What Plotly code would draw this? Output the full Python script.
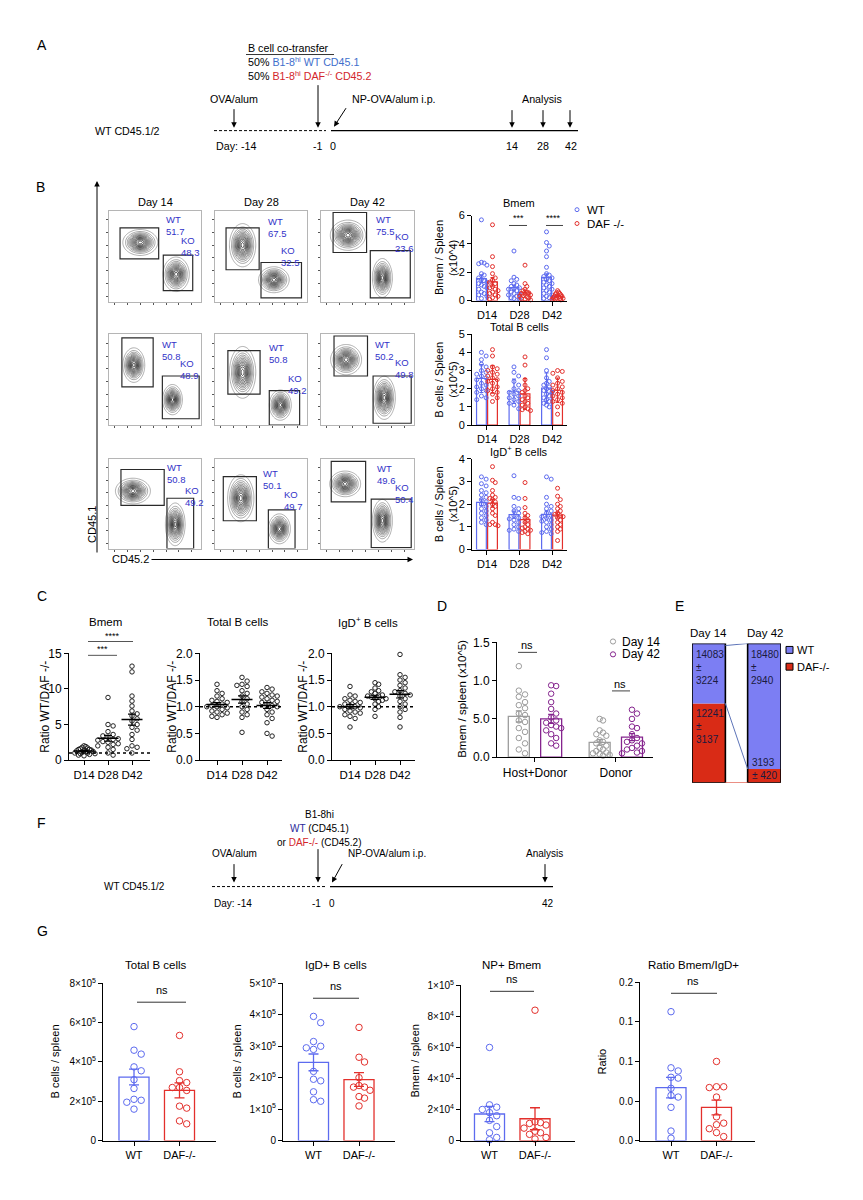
import numpy as np
import plotly.graph_objects as go

# the page body has an 8px margin, so the figure is drawn 8px in from the corner
OFF = 8
FW, FH = 863 - 2 * OFF, 1200 - 2 * OFF
FONT = "Liberation Sans, Arial, sans-serif"

WT_BLUE = "#5d6bef"
DAF_RED = "#e3302c"
GATE_BLUE = "#3232c8"
D14_GRAY = "#9c9c9c"
D42_PURPLE = "#85248e"
E_BLUE = "#7c7ef3"
E_RED = "#d92b16"

# ---------------------------------------------------------------- data
timeline_a_days = ["Day: -14", "-1", "0", "14", "28", "42"]
timeline_f_days = ["Day: -14", "-1", "0", "42"]

# B: flow plots (row-major, rows = 3 experiments, cols = day 14 / 28 / 42)
flow_days = ["Day 14", "Day 28", "Day 42"]
flow_wt_pct = ["51.7", "67.5", "75.5", "50.8", "50.8", "50.2", "50.8", "50.1", "49.6"]
flow_ko_pct = ["48.3", "32.5", "23.6", "48.9", "49.2", "49.8", "49.2", "49.7", "50.4"]
# gates on a 0-100 display scale: (CD45.2 lo, hi, CD45.1 lo, hi)
flow_wt_gate = [(12, 54, 47, 81), (12, 48, 35, 81), (13, 49, 54, 98),
                (14, 48, 42, 96), (14, 49, 34, 82), (14, 50, 54, 98),
                (13, 60, 48, 88), (9, 45, 31, 80), (11, 48, 52, 97)]
flow_ko_gate = [(59, 91, 12, 51), (50, 94, 4, 43), (53, 96, 4, 56),
                (58, 98, 7, 54), (59, 92, 0, 38), (56, 97, 2, 54),
                (63, 92, 0, 56), (58, 87, 0, 43), (54, 97, 1, 55)]
# population centre and spread: (CD45.2, CD45.1, sd CD45.2, sd CD45.1)
flow_wt_pop = [(34, 65, 8, 6), (30, 62, 6, 10), (29, 73, 8, 7),
               (27, 66, 5, 8), (30, 58, 6, 12), (27, 72, 7, 7),
               (26, 64, 8, 6), (28, 56, 6, 11), (26, 72, 7, 6)]
flow_ko_pop = [(73, 30, 6, 8), (64, 24, 7, 6), (66, 26, 4.5, 9),
               (69, 28, 4.5, 7), (71, 22, 5, 7), (68, 30, 5, 10),
               (72, 27, 4.5, 10), (70, 22, 5, 7), (66, 31, 4.5, 10)]

# B: bar charts (per day D14, D28, D42)
bar_days = ["D14", "D28", "D42"]
bmem_wt = [
    [5.7, 2.7, 2.65, 2.6, 2.5, 1.9, 1.8, 1.6, 1.5, 1.4, 1.3, 1.2, 1.1, 1.0, 0.9, 0.8, 0.6, 0.5, 0.4, 0.3, 0.15],
    [3.5, 1.65, 1.5, 1.4, 1.2, 1.1, 1.0, 0.9, 0.85, 0.8, 0.7, 0.6, 0.5, 0.45, 0.4, 0.3, 0.2, 0.15, 0.1],
    [4.85, 4.1, 3.85, 3.5, 3.1, 2.35, 1.9, 1.8, 1.7, 1.6, 1.5, 1.4, 1.3, 1.2, 1.1, 1.0, 0.9, 0.8, 0.7,
     0.6, 0.5, 0.4, 0.3, 0.2, 0.15],
]
bmem_daf = [
    [5.35, 3.1, 2.4, 1.9, 1.6, 1.45, 1.3, 1.2, 1.0, 0.9, 0.8, 0.7, 0.6, 0.5, 0.4, 0.3, 0.2, 0.1],
    [2.5, 1.2, 1.0, 0.8, 0.7, 0.6, 0.55, 0.5, 0.45, 0.4, 0.35, 0.3, 0.25, 0.2, 0.15, 0.1, 0.05],
    [0.7, 0.6, 0.55, 0.5, 0.45, 0.4, 0.35, 0.3, 0.3, 0.25, 0.2, 0.2, 0.15, 0.15, 0.1, 0.1, 0.05],
]
totalb_wt = [
    [4.0, 3.8, 3.6, 3.35, 3.2, 3.0, 2.9, 2.8, 2.7, 2.6, 2.5, 2.3, 2.2, 2.1, 2.0, 1.9, 1.8, 1.6, 1.5, 1.4],
    [3.2, 2.9, 2.7, 2.4, 2.2, 2.0, 1.9, 1.8, 1.7, 1.6, 1.5, 1.4, 1.3, 1.2, 1.1, 0.9],
    [4.15, 3.7, 3.0, 2.6, 2.4, 2.3, 2.2, 2.1, 2.0, 1.9, 1.85, 1.8, 1.7, 1.6, 1.5, 1.4, 1.3, 1.2, 1.1, 1.0],
]
totalb_daf = [
    [4.15, 3.8, 3.2, 3.1, 3.0, 2.9, 2.8, 2.7, 2.6, 2.5, 2.4, 2.3, 2.1, 2.0, 1.9, 1.8, 1.7, 1.5, 1.3],
    [3.75, 3.3, 2.5, 2.2, 2.0, 1.9, 1.8, 1.6, 1.5, 1.4, 1.3, 1.2, 1.1, 1.0, 0.9, 0.85, 0.8],
    [3.0, 2.95, 2.85, 2.6, 2.4, 2.3, 2.2, 2.1, 2.0, 1.9, 1.8, 1.7, 1.6, 1.5, 1.4, 1.3, 1.2, 1.0, 0.6],
]
igd_wt = [
    [3.2, 3.1, 2.9, 2.8, 2.6, 2.5, 2.4, 2.3, 2.2, 2.1, 2.0, 1.9, 1.8, 1.7, 1.6, 1.5, 1.4, 1.3, 1.2, 1.1],
    [3.25, 2.3, 2.25, 1.9, 1.8, 1.7, 1.6, 1.5, 1.4, 1.35, 1.3, 1.2, 1.1, 1.0, 0.9, 0.85, 0.8],
    [3.2, 3.1, 2.3, 2.0, 1.9, 1.8, 1.7, 1.6, 1.5, 1.45, 1.4, 1.3, 1.25, 1.2, 1.1, 1.0, 0.9, 0.8, 0.75, 0.7],
]
igd_daf = [
    [3.65, 3.05, 2.95, 2.6, 2.4, 2.3, 2.25, 2.2, 2.1, 2.0, 1.9, 1.8, 1.6, 1.5, 1.2, 1.1, 1.05, 1.1],
    [2.95, 2.25, 1.85, 1.6, 1.5, 1.4, 1.3, 1.2, 1.1, 1.0, 0.95, 0.9, 0.85, 0.8, 0.75, 0.7],
    [2.7, 2.35, 2.2, 2.0, 1.9, 1.8, 1.7, 1.6, 1.55, 1.5, 1.45, 1.4, 1.3, 1.2, 1.1, 1.0, 0.9, 0.8, 0.4],
]

# C: ratio WT / DAF-/-
ratio_bmem = [
    [2.0, 1.9, 1.8, 1.7, 1.6, 1.5, 1.5, 1.4, 1.3, 1.3, 1.2, 1.2, 1.1, 1.0, 1.0, 0.9, 0.9, 0.8, 0.7, 0.6],
    [8.8, 5.0, 4.8, 4.0, 3.6, 3.4, 3.2, 3.0, 2.9, 2.8, 2.6, 2.5, 2.3, 2.2, 2.0, 1.8, 1.5, 1.0, 0.7],
    [13.2, 12.4, 9.0, 8.3, 7.6, 6.9, 6.5, 6.2, 5.8, 5.5, 5.0, 4.6, 4.2, 3.6, 2.9, 2.0, 1.8, 1.6, 1.0],
]
ratio_total = [
    [1.42, 1.3, 1.25, 1.2, 1.15, 1.12, 1.1, 1.08, 1.05, 1.02, 1.0, 1.0, 0.98, 0.95, 0.92, 0.9, 0.88,
     0.85, 0.82, 0.8],
    [1.55, 1.48, 1.42, 1.4, 1.38, 1.3, 1.25, 1.2, 1.15, 1.1, 1.05, 1.0, 0.95, 0.9, 0.85, 0.8, 0.52],
    [1.36, 1.33, 1.28, 1.25, 1.22, 1.2, 1.18, 1.15, 1.12, 1.1, 1.08, 1.05, 1.02, 1.0, 0.95, 0.9, 0.85,
     0.78, 0.7, 0.5, 0.45],
]
ratio_igd = [
    [1.38, 1.22, 1.2, 1.15, 1.12, 1.1, 1.08, 1.05, 1.02, 1.0, 1.0, 0.98, 0.95, 0.92, 0.9, 0.88, 0.85,
     0.82, 0.78, 0.62],
    [1.45, 1.42, 1.35, 1.3, 1.28, 1.25, 1.22, 1.2, 1.2, 1.18, 1.15, 1.15, 1.12, 1.1, 1.05, 1.0, 0.95, 0.82],
    [1.98, 1.6, 1.55, 1.5, 1.45, 1.4, 1.35, 1.3, 1.28, 1.25, 1.22, 1.2, 1.15, 1.1, 1.05, 1.0, 0.95,
     0.9, 0.8, 0.62],
]

# D: Bmem / spleen (x10^5)
d_groups = ["Host+Donor", "Donor"]
d_day14 = [
    [1.19, 0.87, 0.82, 0.79, 0.72, 0.68, 0.64, 0.57, 0.55, 0.48, 0.46, 0.38, 0.33, 0.25, 0.18, 0.1, 0.05],
    [0.5, 0.48, 0.35, 0.32, 0.3, 0.28, 0.22, 0.2, 0.18, 0.15, 0.12, 0.1, 0.08, 0.06, 0.05, 0.04, 0.03, 0.02],
]
d_day42 = [
    [0.94, 0.93, 0.83, 0.72, 0.63, 0.57, 0.52, 0.48, 0.45, 0.42, 0.4, 0.38, 0.35, 0.3, 0.25, 0.18, 0.15],
    [0.62, 0.57, 0.5, 0.4, 0.38, 0.3, 0.25, 0.22, 0.2, 0.18, 0.15, 0.12, 0.1, 0.08, 0.06, 0.05],
]

# E: donor Bmem numbers (mean, sem) and the WT share of each bar as drawn
e_days = ["Day 14", "Day 42"]
e_wt_mean = [14083, 18480]
e_wt_sem = [3224, 2940]
e_daf_mean = [12241, 3193]
e_daf_sem = [3137, 420]
e_wt_share = [0.43, 0.90]

# G: single transfer, day 42
g_titles = ["Total B cells", "IgD+ B cells", "NP+ Bmem", "Ratio Bmem/IgD+"]
g_ylabels = ["B cells / spleen", "B cells / spleen", "Bmem / spleen", "Ratio"]
g_groups = ["WT", "DAF-/-"]
g_wt = [
    [5.8e5, 4.6e5, 4.4e5, 3.75e5, 3.55e5, 3.1e5, 2.65e5, 2.1e5, 2.05e5, 1.95e5, 1.6e5],
    [3.95e5, 3.75e5, 3.15e5, 3.0e5, 2.95e5, 2.9e5, 2.2e5, 1.95e5, 1.9e5, 1.55e5, 1.3e5, 1.25e5],
    [6.0e4, 2.3e4, 2.15e4, 2.0e4, 1.8e4, 1.6e4, 1.3e4, 0.9e4, 0.5e4, 0.2e4, 0.05e4],
    [0.163, 0.092, 0.088, 0.08, 0.079, 0.066, 0.057, 0.055, 0.042, 0.012, 0.003],
]
g_daf = [
    [5.35e5, 3.5e5, 3.05e5, 2.95e5, 2.7e5, 2.7e5, 2.55e5, 1.75e5, 1.65e5, 1.0e5, 0.85e5],
    [3.6e5, 2.65e5, 2.5e5, 2.0e5, 1.75e5, 1.7e5, 1.7e5, 1.6e5, 1.4e5, 1.35e5, 1.1e5],
    [8.4e4, 1.2e4, 1.15e4, 1.1e4, 1.0e4, 0.8e4, 0.6e4, 0.5e4, 0.4e4, 0.2e4, 0.1e4],
    [0.1, 0.068, 0.067, 0.068, 0.055, 0.03, 0.022, 0.02, 0.015, 0.01, 0.005],
]

# ---------------------------------------------------------------- helpers
fig = go.Figure()
layout_axes, shapes, notes = {}, [], []


def px(x):
    return (x - OFF) / FW


def py(y):
    return 1 - (y - OFF) / FH


def add_axes(box, xr, yr, xa=None, ya=None):
    n = len(layout_axes) // 2 + 1
    s = "" if n == 1 else str(n)
    x0, x1, y0, y1 = box
    base = dict(showgrid=False, zeroline=False, fixedrange=True)
    xd = dict(base, domain=[px(x0), px(x1)], range=xr, anchor="y" + s)
    yd = dict(base, domain=[py(y1), py(y0)], range=yr, anchor="x" + s)
    xd.update(xa or {})
    yd.update(ya or {})
    layout_axes["xaxis" + s] = xd
    layout_axes["yaxis" + s] = yd
    return "x" + s, "y" + s


def label(x, y, s, size=11, color="black", xanchor="center", yanchor="middle", angle=0, align="center"):
    notes.append(dict(x=px(x), y=py(y), xref="paper", yref="paper", text=s, showarrow=False,
                      font=dict(size=size, color=color, family=FONT), xanchor=xanchor,
                      yanchor=yanchor, textangle=angle, align=align))


def seg(x0, y0, x1, y1, width=1.0, color="black", dash=None):
    shapes.append(dict(type="line", xref="paper", yref="paper", x0=px(x0), y0=py(y0),
                       x1=px(x1), y1=py(y1), line=dict(width=width, color=color, dash=dash)))


def arrow(x0, y0, x1, y1, width=1.0):
    notes.append(dict(x=px(x1), y=py(y1), xref="paper", yref="paper", ax=x0 - x1, ay=y0 - y1,
                      axref="pixel", ayref="pixel", text="", showarrow=True, arrowhead=2,
                      arrowsize=1.1, arrowwidth=width, arrowcolor="black",
                      font=dict(size=10, family=FONT)))


def circle(x, y, r, color, fill=None):
    shapes.append(dict(type="circle", xref="paper", yref="paper", x0=px(x - r), x1=px(x + r),
                       y0=py(y + r), y1=py(y - r), line=dict(color=color, width=1), fillcolor=fill))


def swarm_offsets(values, ypx, xpx, diam, max_off):
    """Beeswarm-style horizontal spread (pixels), squeezed to +/- max_off."""
    vals = np.asarray(values, dtype=float)
    placed = []
    offs = np.zeros(len(vals))
    for i in np.argsort(-vals):
        y = vals[i] * ypx
        k = 0
        while True:
            o = ((k + 1) // 2) * diam * (1 if k % 2 else -1)
            if all((o - qx) ** 2 + (y - qy) ** 2 >= (0.95 * diam) ** 2 for qx, qy in placed):
                break
            k += 1
        placed.append((o, y))
        offs[i] = o
    widest = np.abs(offs).max()
    if widest > max_off:
        offs *= max_off / widest
    return offs / xpx


def prism_axes(box, xr, yr, xvals, xtext, yvals, ytext, tick_size=11, xtick_size=None):
    common = dict(showline=True, linecolor="black", linewidth=1, ticks="outside", ticklen=4,
                  tickwidth=1, tickcolor="black", tickfont=dict(size=tick_size, color="black"))
    xa = dict(common, tickvals=xvals, ticktext=xtext, tickangle=0)
    if xtick_size:
        xa["tickfont"] = dict(size=xtick_size, color="black")
    return add_axes(box, xr, yr, xa=xa, ya=dict(common, tickvals=yvals, ticktext=ytext))


def bar_dots(xa, ya, box, xr, yr, positions, groups, color, bar_w, dot, err="sem", lw=1.3, cap=3,
             max_off=8):
    xpx = (box[1] - box[0]) / (xr[1] - xr[0])
    ypx = (box[3] - box[2]) / (yr[1] - yr[0])
    means = [float(np.mean(g)) for g in groups]
    sds = [float(np.std(g, ddof=1)) for g in groups]
    errs = sds if err == "sd" else [s / np.sqrt(len(g)) for s, g in zip(sds, groups)]
    fig.add_trace(go.Bar(x=list(positions), y=means, width=bar_w, xaxis=xa, yaxis=ya,
                         marker=dict(color="rgba(255,255,255,0)", line=dict(color=color, width=lw)),
                         error_y=dict(type="data", array=errs, color=color, thickness=lw, width=cap),
                         hoverinfo="skip"))
    xs, ys = [], []
    for p, g in zip(positions, groups):
        xs += list(p + swarm_offsets(g, ypx, xpx, dot + 0.7, max_off))
        ys += list(g)
    fig.add_trace(go.Scatter(x=xs, y=ys, mode="markers", xaxis=xa, yaxis=ya, cliponaxis=False,
                             marker=dict(symbol="circle-open", size=dot, color=color, line=dict(width=1)),
                             hoverinfo="skip"))


def dot_means(xa, ya, box, xr, yr, groups, dot=4.5, max_off=11):
    xpx = (box[1] - box[0]) / (xr[1] - xr[0])
    ypx = (box[3] - box[2]) / (yr[1] - yr[0])
    xs, ys = [], []
    for p, g in enumerate(groups):
        xs += list(p + swarm_offsets(g, ypx, xpx, dot + 0.6, max_off))
        ys += list(g)
    fig.add_trace(go.Scatter(x=xs, y=ys, mode="markers", xaxis=xa, yaxis=ya, cliponaxis=False,
                             marker=dict(symbol="circle-open", size=dot, color="#222", line=dict(width=1)),
                             hoverinfo="skip"))
    means = [float(np.mean(g)) for g in groups]
    sems = [float(np.std(g, ddof=1) / np.sqrt(len(g))) for g in groups]
    fig.add_trace(go.Scatter(x=list(range(len(groups))), y=means, mode="markers", xaxis=xa, yaxis=ya,
                             marker=dict(symbol="line-ew", size=15, color="black",
                                         line=dict(width=1.5, color="black")),
                             error_y=dict(type="data", array=sems, color="black", thickness=1.2, width=4),
                             hoverinfo="skip"))


# ---------------------------------------------------------------- A: timeline
TA = 10.7
label(42, 38, "A", 14)
label(246, 41, "B cell co-transfer", TA, xanchor="left")
seg(246, 48, 334, 48, 0.8)
label(246, 55, "50% <span style='color:#3f6fcc'>B1-8<sup>hi</sup> WT CD45.1</span>", TA, xanchor="left")
label(246, 69, "50% <span style='color:#d3262b'>B1-8<sup>hi</sup> DAF<sup>-/-</sup> CD45.2</span>", TA,
      xanchor="left")
label(234, 93, "OVA/alum", TA)
label(350, 93, "NP-OVA/alum i.p.", TA, xanchor="left")
label(542, 93, "Analysis", TA)
arrow(234, 102, 234, 122)
arrow(318, 78, 318, 122)
arrow(347, 101, 334, 121)
for ax_x in (512, 543, 570):
    arrow(ax_x, 103, ax_x, 122)
seg(214, 125, 326, 125, 1, dash="3px,2px")
seg(331, 125, 578, 125, 1.2)
label(93, 125, "WT CD45.1/2", TA, xanchor="left")
label(214, 141, timeline_a_days[0], TA, xanchor="left")
for s, ax_x in zip(timeline_a_days[1:], (318, 333, 512, 543, 571)):
    label(ax_x, 141, s, TA)

# ---------------------------------------------------------------- B: flow plots
label(40, 182, "B", 14)
flow_cols = [(109, 201), (215, 307), (321, 414)]
flow_rows = [(206, 298), (331, 423), (457, 548)]
wt_label_at = [(60, 98), (55, 96), (57, 99), (55, 97), (57, 94), (56, 97), (61, 99), (50, 92), (58, 97)]
ko_label_at = [(76, 75), (70, 64), (77, 80), (75, 76), (77, 60), (77, 77), (80, 73), (73, 68), (77, 76)]
gx = np.linspace(0, 100, 81)
GX, GY = np.meshgrid(gx, gx)


def blob(cx, cy, sx, sy):
    return np.exp(-0.5 * (((GX - cx) / sx) ** 2 + ((GY - cy) / sy) ** 2))


flow_axis = dict(showline=True, mirror=True, linecolor="#b5b5b5", linewidth=1, ticks="outside",
                 ticklen=2, tickwidth=1, tickcolor="#555", tickvals=[6, 20, 34, 48, 62, 76, 90],
                 showticklabels=False)
for c, day in enumerate(flow_days):
    label((flow_cols[c][0] + flow_cols[c][1]) / 2, 197, day, 11)
for r in range(3):
    for c in range(3):
        i = 3 * r + c
        box = (flow_cols[c][0], flow_cols[c][1], flow_rows[r][0], flow_rows[r][1])
        xa, ya = add_axes(box, [0, 100], [0, 100], xa=flow_axis, ya=flow_axis)
        z = blob(*flow_wt_pop[i]) + blob(*flow_ko_pop[i])
        fig.add_trace(go.Contour(x=gx, y=gx, z=z, xaxis=xa, yaxis=ya, showscale=False, zmin=0, zmax=1,
                                 contours=dict(coloring="lines", start=0.06, end=0.98, size=0.075),
                                 line=dict(width=0.7), colorscale=[[0, "#8c8c8c"], [1, "#000000"]],
                                 hoverinfo="skip"))
        for g in (flow_wt_gate[i], flow_ko_gate[i]):
            shapes.append(dict(type="rect", xref=xa, yref=ya, x0=g[0], x1=g[1], y0=g[2], y1=g[3],
                               line=dict(color="#2a2a2a", width=1.2)))
        for (lx, ly), tag, pct in ((wt_label_at[i], "WT", flow_wt_pct[i]), (ko_label_at[i], "KO", flow_ko_pct[i])):
            notes.append(dict(x=lx, y=ly, xref=xa, yref=ya, text=f"{tag}<br>{pct}", showarrow=False,
                              align="left", xanchor="left", yanchor="top",
                              font=dict(size=9.5, color=GATE_BLUE, family=FONT)))

arrow(97, 549, 97, 176)
arrow(150, 559, 413, 559)
label(92, 524, "CD45.1", 11, angle=-90)
label(110, 559, "CD45.2", 11, xanchor="left")

# ---------------------------------------------------------------- B: bar charts
b_xr = [-0.46, 2.46]
b_specs = [
    ("Bmem", bmem_wt, bmem_daf, (211, 297), [0, 6], [0, 2, 4, 6], "sem", "Bmem / Spleen", "(x10^4)", 198),
    ("Total B cells", totalb_wt, totalb_daf, (331, 423), [0, 5], [0, 1, 2, 3, 4, 5], "sd",
     "B cells / Spleen", "(x10^5)", 324),
    ("IgD<sup>+</sup> B cells", igd_wt, igd_daf, (457, 549), [0, 4], [0, 1, 2, 3, 4], "sem",
     "B cells / Spleen", "(x10^5)", 449),
]
for title, wt, daf, (y0, y1), yr, yt, err, ylab1, ylab2, ty in b_specs:
    box = (472, 567, y0, y1)
    xa, ya = prism_axes(box, b_xr, yr, [0, 1, 2], bar_days, yt, [str(v) for v in yt], 11)
    bar_dots(xa, ya, box, b_xr, yr, np.arange(3) - 0.17, wt, WT_BLUE, 0.3, 4, err, 1.2, 2, 5.5)
    bar_dots(xa, ya, box, b_xr, yr, np.arange(3) + 0.17, daf, DAF_RED, 0.3, 4, err, 1.2, 2, 5.5)
    label(519, ty, title, 11)
    label(439, (y0 + y1) / 2, ylab1, 11, angle=-90)
    label(453, (y0 + y1) / 2, ylab2, 11, angle=-90)

label(518, 213, "***", 9)
seg(509, 221, 527, 221, 1, "#444")
label(553, 213, "****", 9)
seg(546, 221, 563, 221, 1, "#444")
circle(577, 205, 2, WT_BLUE)
label(585, 205, "WT", 11.5, xanchor="left")
circle(577, 219, 2, DAF_RED)
label(585, 219, "DAF -/-", 11.5, xanchor="left")

# ---------------------------------------------------------------- C: ratios
label(42, 596, "C", 14)
c_specs = [
    ("Bmem", ratio_bmem, (69, 150), [-0.625, 2.75], [0, 15], [0, 5, 10, 15], ["0", "5", "10", "15"], 45, 105),
    ("Total B cells", ratio_total, (200, 282), [-0.68, 2.6], [0, 2], [0, 0.5, 1, 1.5, 2],
     ["0.0", "0.5", "1.0", "1.5", "2.0"], 172, 238),
    ("IgD<sup>+</sup> B cells", ratio_igd, (332, 415), [-0.72, 2.6], [0, 2], [0, 0.5, 1, 1.5, 2],
     ["0.0", "0.5", "1.0", "1.5", "2.0"], 303, 368),
]
for title, groups, (x0, x1), xr, yr, yt, ytt, ylx, tx in c_specs:
    box = (x0, x1, 654, 762)
    xa, ya = prism_axes(box, xr, yr, [0, 1, 2], bar_days, yt, ytt, 12, 11.5)
    shapes.append(dict(type="line", xref=xa + " domain", yref=ya, x0=0, x1=1, y0=1, y1=1,
                       line=dict(color="black", width=1.5, dash="dot")))
    dot_means(xa, ya, box, xr, yr, groups)
    label(tx, 622, title, 11.5)
    label(ylx, 708, "Ratio WT/DAF -/-", 12, angle=-90)
label(112, 636, "****", 9)
seg(88, 642, 133, 642, 1, "#555")
label(102, 650, "***", 9)
seg(88, 656, 117, 656, 1, "#555")

# ---------------------------------------------------------------- D
label(442, 606, "D", 14)
d_box = (497, 653, 643, 759)
d_xr = [-0.47, 1.46]
xa, ya = prism_axes(d_box, d_xr, [0, 1.5], [0, 1], d_groups, [0, 0.5, 1.0, 1.5],
                    ["0.0", "5.0", "1.0", "1.5"], 12)
bar_dots(xa, ya, d_box, d_xr, [0, 1.5], np.arange(2) - 0.2, d_day14, D14_GRAY, 0.26, 5.5, "sem", 1.3, 3, 10)
bar_dots(xa, ya, d_box, d_xr, [0, 1.5], np.arange(2) + 0.2, d_day42, D42_PURPLE, 0.26, 5.5, "sem", 1.3, 3, 10)
label(462, 700, "Bmem / spleen (x10^5)", 11.5, angle=-90)
label(527, 646, "ns", 11)
seg(518, 653, 537, 653, 1, "#444")
label(620, 685, "ns", 11)
seg(612, 692, 630, 692, 1, "#444")
circle(613, 642, 2.6, D14_GRAY)
label(620, 642, "Day 14", 12, xanchor="left")
circle(613, 655, 2.6, D42_PURPLE)
label(620, 655, "Day 42", 12, xanchor="left")

# ---------------------------------------------------------------- E
label(679, 606, "E", 14)
e_box = (692, 781, 644, 785)
e_xr = [-0.3, 1.3]
xa, ya = add_axes(e_box, e_xr, [0, 1], xa=dict(visible=False), ya=dict(visible=False))
daf_frac = [1 - s for s in e_wt_share]
fig.add_trace(go.Bar(x=[0, 1], y=daf_frac, width=0.6, xaxis=xa, yaxis=ya, hoverinfo="skip",
                     marker=dict(color=E_RED, line=dict(width=0))))
fig.add_trace(go.Bar(x=[0, 1], y=e_wt_share, base=daf_frac, width=0.6, xaxis=xa, yaxis=ya, hoverinfo="skip",
                     marker=dict(color=E_BLUE, line=dict(width=0))))
for p in (0, 1):
    shapes.append(dict(type="rect", xref=xa, yref=ya, x0=p - 0.3, x1=p + 0.3, y0=0, y1=1,
                       line=dict(color="black", width=1.6)))
shapes.append(dict(type="line", xref=xa, yref=ya, x0=0.3, x1=0.7, y0=0.985, y1=1,
                   line=dict(color="#5d74b8", width=1)))
shapes.append(dict(type="line", xref=xa, yref=ya, x0=0.3, x1=0.7, y0=daf_frac[0], y1=daf_frac[1],
                   line=dict(color="#5d74b8", width=1)))
shapes.append(dict(type="line", xref=xa, yref=ya, x0=0.3, x1=0.7, y0=0, y1=0,
                   line=dict(color=E_RED, width=1)))
e_text = dict(size=10, color="#1a1a40", family=FONT)
for p, day in enumerate(e_days):
    label(708.5 + 56 * p, 633, day, 11.5)
    notes.append(dict(x=p - 0.27, y=0.975, xref=xa, yref=ya, showarrow=False, xanchor="left",
                      yanchor="top", align="left", text=f"{e_wt_mean[p]}<br>±<br>{e_wt_sem[p]}",
                      font=e_text))
notes.append(dict(x=-0.27, y=daf_frac[0] - 0.02, xref=xa, yref=ya, showarrow=False, xanchor="left",
                  yanchor="top", align="left", text=f"{e_daf_mean[0]}<br>±<br>{e_daf_sem[0]}",
                  font=e_text))
notes.append(dict(x=0.74, y=daf_frac[1], xref=xa, yref=ya, showarrow=False, xanchor="left",
                  yanchor="middle", align="left", text=f"{e_daf_mean[1]}<br>± {e_daf_sem[1]}",
                  font=e_text))
shapes.append(dict(type="rect", xref="paper", yref="paper", x0=px(786), x1=px(793), y0=py(654),
                   y1=py(647), fillcolor=E_BLUE, line=dict(color="black", width=1)))
label(795, 650.5, "WT", 11, xanchor="left")
shapes.append(dict(type="rect", xref="paper", yref="paper", x0=px(786), x1=px(793), y0=py(671),
                   y1=py(664), fillcolor=E_RED, line=dict(color="black", width=1)))
label(795, 667.5, "DAF-/-", 11, xanchor="left")

# ---------------------------------------------------------------- F: timeline
TF = 10
label(41, 826, "F", 14)
label(319, 817, "B1-8hi", TF)
label(319, 831, "<span style='color:#2b2b9c'>WT</span> (CD45.1)", TF)
label(319, 845, "or <span style='color:#d3262b'>DAF-/-</span> (CD45.2)", TF)
label(234, 857, "OVA/alum", TF)
label(346, 857, "NP-OVA/alum i.p.", TF, xanchor="left")
label(544, 857, "Analysis", TF)
arrow(234, 866, 234, 886)
arrow(318, 851, 318, 886)
arrow(343, 866, 332, 886)
arrow(545, 866, 545, 886)
seg(212, 890, 325, 890, 1, dash="3px,2px")
seg(330, 890, 553, 890, 1.2)
label(102, 890, "WT CD45.1/2", TF, xanchor="left")
label(212, 907, timeline_f_days[0], TF, xanchor="left")
for s, ax_x in zip(timeline_f_days[1:], (316, 332, 548)):
    label(ax_x, 907, s, TF)

# ---------------------------------------------------------------- G
label(42, 935, "G", 14)
g_axes = [(103, 216), (283, 395), (461, 575), (640, 755)]
g_centers = [134, 313.5, 489.5, 671]
g_ranges = [[0, 8e5], [0, 5e5], [0, 1e5], [0, 0.2]]
g_tops = [988, 988, 990, 987]
g_ticks = [
    ([0, 2e5, 4e5, 6e5, 8e5], ["0"] + [f"{k}×10<sup>5</sup>" for k in (2, 4, 6, 8)]),
    ([0, 1e5, 2e5, 3e5, 4e5, 5e5], ["0"] + [f"{k}×10<sup>5</sup>" for k in (1, 2, 3, 4, 5)]),
    ([0, 2e4, 4e4, 6e4, 8e4, 1e5], ["0"] + [f"{k}×10<sup>4</sup>" for k in (2, 4, 6, 8)] + ["1×10<sup>5</sup>"]),
    ([0, 0.05, 0.1, 0.15, 0.2], ["0.0", "0.0", "0.1", "0.1", "0.2"]),
]
g_ylab_x = [55, 237, 415, 602]
g_ns = [(162, 995, 137, 186, 1007), (336, 991, 313, 359, 1003), (512, 984, 490, 534, 996),
        (693, 986, 671, 717, 998)]
for k in range(4):
    x0, x1 = g_axes[k]
    spacing = 45.5
    xr = [-(g_centers[k] - x0) / spacing, (x1 - g_centers[k]) / spacing]
    box = (x0, x1, g_tops[k], 1147)
    xa, ya = prism_axes(box, xr, g_ranges[k], [0, 1], g_groups, g_ticks[k][0], g_ticks[k][1], 10, 11)
    bar_dots(xa, ya, box, xr, g_ranges[k], [0], [g_wt[k]], WT_BLUE, 0.66, 6.5, "sem", 1.3, 5, 11)
    bar_dots(xa, ya, box, xr, g_ranges[k], [1], [g_daf[k]], DAF_RED, 0.66, 6.5, "sem", 1.3, 5, 11)
    label((g_centers[k] + 22), 969, g_titles[k], 11.5)
    label(g_ylab_x[k], 1067, g_ylabels[k], 11, angle=-90)
    tx, ty, lx0, lx1, ly = g_ns[k]
    label(tx, ty, "ns", 11)
    seg(lx0, ly, lx1, ly, 1, "#333")

fig.update_layout(
    width=FW, height=FH, margin=dict(l=0, r=0, t=0, b=0),
    paper_bgcolor="white", plot_bgcolor="white", showlegend=False, barmode="overlay",
    font=dict(family=FONT, color="black"), shapes=shapes, annotations=notes, **layout_axes,
)
fig.write_html("out.html")
